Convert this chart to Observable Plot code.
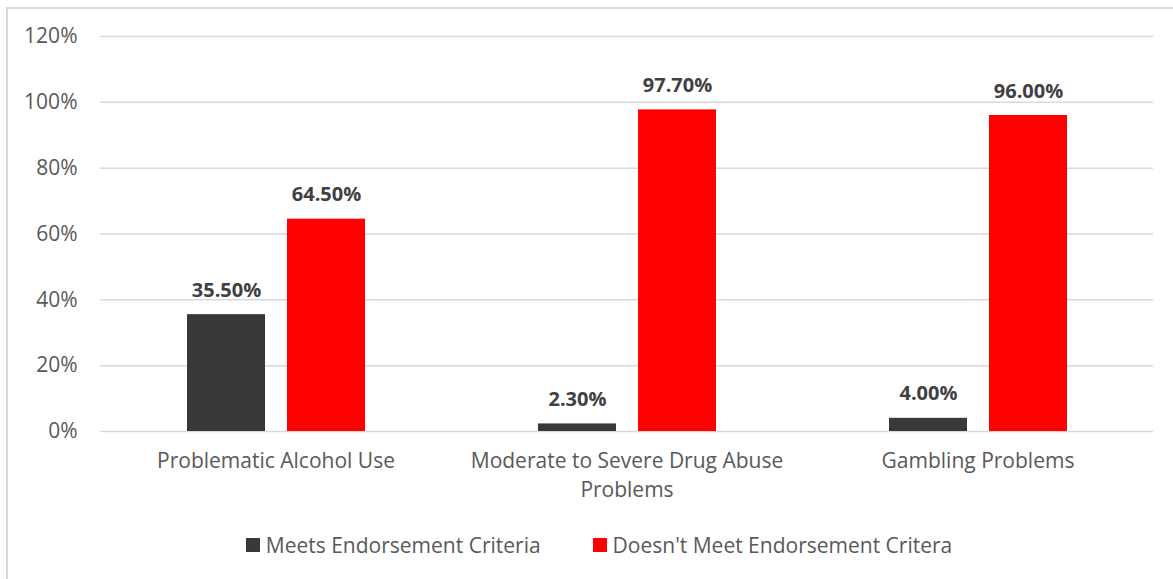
<!DOCTYPE html>
<html>
<head>
<meta charset="utf-8">
<script src="https://cdn.jsdelivr.net/npm/d3@7"></script>
<script src="https://cdn.jsdelivr.net/npm/@observablehq/plot@0.6"></script>
<style>
  html, body { margin: 0; padding: 0; background: #fff; }
  body { width: 1173px; height: 579px; position: relative; overflow: hidden; font-family: "Open Sans", sans-serif; }
  #frame { position: absolute; left: 6px; top: 7px; width: 1200px; height: 600px; border-left: 2px solid #d9d9d9; border-top: 2px solid #d9d9d9; box-sizing: border-box; }
  #chart { position: absolute; left: 0; top: 0; }
  #legend { position: absolute; left: 0; top: 530px; width: 1173px; height: 30px; display: flex; justify-content: center; align-items: center; font-size: 21px; color: #595959; padding-left: 25px; box-sizing: border-box; }
  .item { display: flex; align-items: center; margin: 0 26px; }
  .sw { width: 14px; height: 14px; margin-right: 6px; }
</style>
</head>
<body>
<div id="frame"></div>
<div id="chart"></div>
<div id="legend"></div>
<script>
const categories = ["Problematic Alcohol Use", "Moderate to Severe Drug Abuse\nProblems", "Gambling Problems"];
const seriesNames = ["Meets Endorsement Criteria", "Doesn't Meet Endorsement Critera"];
const meets = [35.5, 2.3, 4.0];
const doesntMeet = [64.5, 97.7, 96.0];
const colors = ["#383838", "#ff0000"];
const yTicks = [0, 20, 40, 60, 80, 100, 120];

const data = [];
categories.forEach((c, i) => {
  data.push({cat: c, series: seriesNames[0], value: meets[i]});
  data.push({cat: c, series: seriesNames[1], value: doesntMeet[i]});
});

const plot = Plot.plot({
  width: 1173,
  height: 510,
  marginLeft: 100,
  marginRight: 20,
  marginTop: 36,
  marginBottom: 79,
  style: {fontFamily: "'Open Sans', sans-serif", background: "transparent"},
  fx: {domain: categories, padding: 0, axis: null},
  x: {domain: seriesNames, paddingInner: 0.22, paddingOuter: 0.865, axis: null},
  y: {domain: [0, 120], axis: null},
  color: {domain: seriesNames, range: colors},
  marks: [
    Plot.gridY(yTicks, {stroke: "#d9d9d9", strokeOpacity: 1, strokeWidth: 1.5}),
    Plot.axisY(yTicks, {tickSize: 0, tickPadding: 23, tickFormat: d => d + "%", fontSize: 21, fill: "#595959", label: null}),
    Plot.barY(data, {fx: "cat", x: "series", y: "value", fill: "series"}),
    Plot.text(data, {fx: "cat", x: "series", y: "value", text: d => d.value.toFixed(2) + "%", lineAnchor: "bottom", dy: -18, fontSize: 20, fontWeight: "bold", fill: "#404040"}),
    Plot.text(categories, {fx: d => d, text: d => d, frameAnchor: "bottom", lineAnchor: "top", dy: 16, fontSize: 21, fill: "#595959", lineHeight: 1.38})
  ]
});
document.getElementById("chart").appendChild(plot);

const legend = document.getElementById("legend");
seriesNames.forEach((s, i) => {
  const it = document.createElement("div");
  it.className = "item";
  const sw = document.createElement("div");
  sw.className = "sw";
  sw.style.background = colors[i];
  const t = document.createElement("span");
  t.textContent = s;
  it.appendChild(sw);
  it.appendChild(t);
  legend.appendChild(it);
});
</script>
</body>
</html>
